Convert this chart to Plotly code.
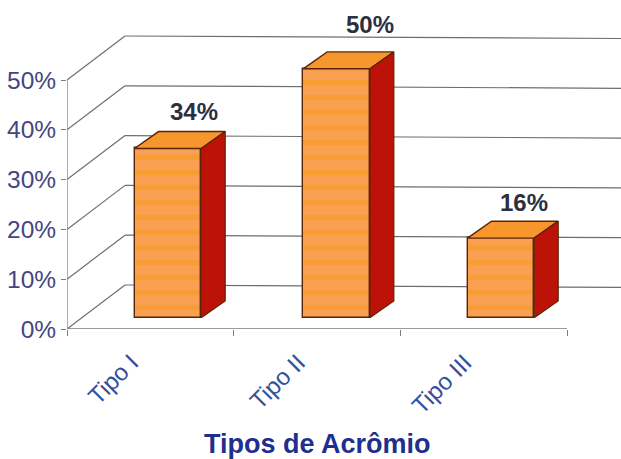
import plotly.graph_objects as go

categories = ["Tipo I", "Tipo II", "Tipo III"]
values = [34, 50, 16]
y_ticks = [0, 10, 20, 30, 40, 50]
y_labels = ["0%", "10%", "20%", "30%", "40%", "50%"]
x_edges = [0, 1, 2, 3]
x_centers = [0.5, 1.5, 2.5]

# depth projection (axis units)
WALL_DX, WALL_DY = 0.348, 8.84
FLOOR_DY = 2.25
BAR_DX, BAR_DY = 0.144, 3.4
BAR_W = 0.40
X_MAX = 3.324
Y_MAX = 66.07
OUT = "#5a2408"
bar_x_offset = [0.105, 0.117, 0.103]
label_xshift = [0, 10, -3]
label_yshift = [0, 8, -1]

fig = go.Figure()

# back wall lines, below all the marks
for v in y_ticks:
    pts = [(0, v), (WALL_DX, v + WALL_DY), (X_MAX, v + WALL_DY - 0.5)]
    for (xa, ya), (xb, yb) in zip(pts[:-1], pts[1:]):
        fig.add_shape(type="line", x0=xa, y0=ya, x1=xb, y1=yb, xref="x", yref="y", layer="below",
                      line=dict(color="#6e6e6e", width=1.2))

# axis lines
fig.add_trace(go.Scatter(x=[0, 3], y=[0, 0], mode="lines", line=dict(color="#7d7d7d", width=1.6),
                         cliponaxis=False, showlegend=False, hoverinfo="skip"))
fig.add_trace(go.Scatter(x=[0, 0], y=[0, 50], mode="lines", line=dict(color="#8a8a8a", width=1.4),
                         cliponaxis=False, showlegend=False, hoverinfo="skip"))

bar_x = [c + o for c, o in zip(x_centers, bar_x_offset)]

# front faces
fig.add_trace(go.Bar(x=bar_x, y=values, base=FLOOR_DY, width=BAR_W,
                     marker=dict(color="#F9A052", line=dict(color=OUT, width=1.4),
                                 pattern=dict(shape="-", fgcolor="#F59A14", bgcolor="#F9A052",
                                              size=15, solidity=0.35)),
                     showlegend=False))

# top and side faces
for c, v in zip(bar_x, values):
    x0 = c - BAR_W / 2
    x1 = c + BAR_W / 2
    top = v + FLOOR_DY
    fig.add_trace(go.Scatter(x=[x0, x1, x1 + BAR_DX, x0 + BAR_DX, x0],
                             y=[top, top, top + BAR_DY, top + BAR_DY, top],
                             mode="lines", fill="toself", fillcolor="#F7962C",
                             line=dict(color=OUT, width=1.4), showlegend=False, hoverinfo="skip"))
    fig.add_trace(go.Scatter(x=[x1, x1 + BAR_DX, x1 + BAR_DX, x1, x1],
                             y=[FLOOR_DY, FLOOR_DY + BAR_DY, top + BAR_DY, top, FLOOR_DY],
                             mode="lines", fill="toself", fillcolor="#BC1208",
                             line=dict(color=OUT, width=1.2), showlegend=False, hoverinfo="skip"))

# invisible trace that carries the category-label axis
fig.add_trace(go.Scatter(x=x_centers, y=[0, 0, 0], xaxis="x2", mode="markers",
                         marker=dict(opacity=0), showlegend=False, hoverinfo="skip"))

# value labels
for c, v, sx, sy in zip(x_centers, values, label_xshift, label_yshift):
    fig.add_annotation(x=c + 0.26, y=v + 9.6, text=f"<b>{v}%</b>", showarrow=False,
                       xshift=sx, yshift=sy, xref="x", yref="y",
                       font=dict(family="Liberation Sans", size=24, color="#2b3040"))

# axis title
fig.add_annotation(x=1.5, y=-0.35, text="<b>Tipos de Acrômio</b>", showarrow=False,
                   xref="x", yref="paper", yanchor="middle",
                   font=dict(family="Liberation Sans", size=27, color="#1f2f8f"))

fig.update_layout(
    width=621, height=459, margin=dict(l=67, r=0, t=0, b=130),
    paper_bgcolor="white", plot_bgcolor="rgba(0,0,0,0)", bargap=0, showlegend=False,
    font=dict(family="Liberation Sans"),
    xaxis=dict(range=[0, X_MAX], tickvals=x_edges, ticktext=["", "", "", ""], ticks="outside",
               ticklen=6, tickcolor="#7d7d7d", tickwidth=1, showgrid=False, zeroline=False,
               showline=False),
    xaxis2=dict(range=[0, X_MAX], overlaying="x", anchor="y", side="bottom",
                tickvals=[c - 0.113 for c in x_centers],
                ticktext=categories, ticks="outside", ticklen=9, tickcolor="rgba(0,0,0,0)",
                tickangle=-45, showgrid=False, zeroline=False,
                tickfont=dict(size=24, color="#34509e")),
    yaxis=dict(range=[0, Y_MAX], tickvals=y_ticks, ticktext=y_labels, ticks="outside",
               ticklen=5, tickcolor="#7d7d7d", tickwidth=1, showgrid=False, zeroline=False,
               showline=False, tickfont=dict(size=24.5, color="#45457f")),
)

fig.write_html("out.html", config={"displayModeBar": False},
               post_script="document.body.style.margin='0';")
